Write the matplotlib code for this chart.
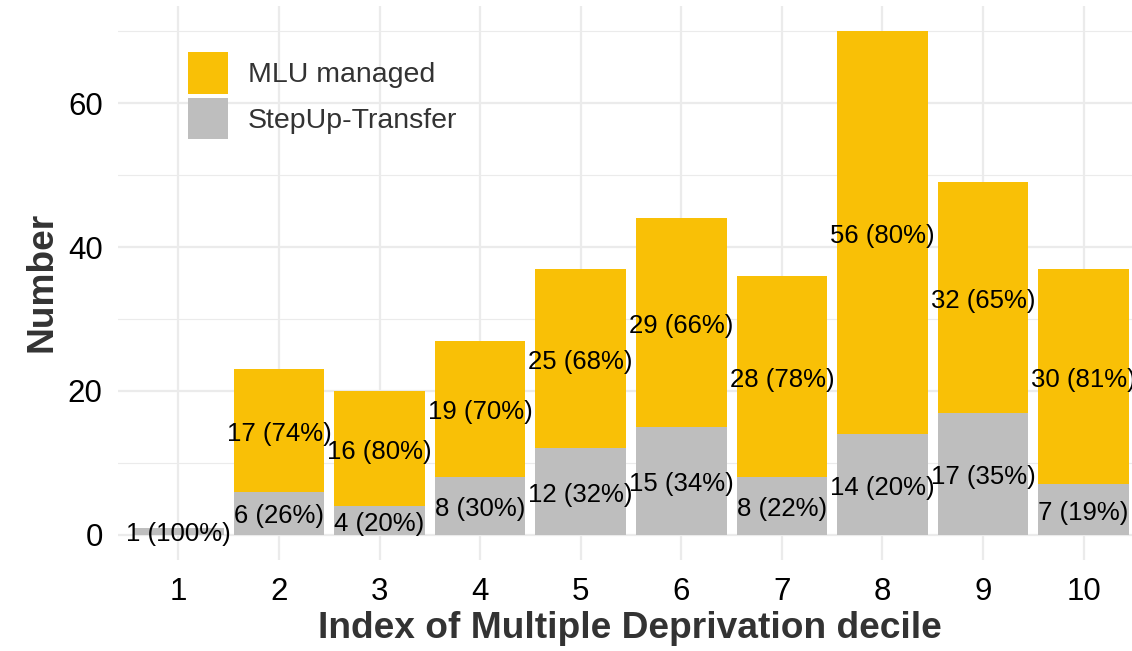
import matplotlib
matplotlib.use("Agg")
import matplotlib.pyplot as plt
from matplotlib.patches import Patch
import numpy as np

deciles = [1, 2, 3, 4, 5, 6, 7, 8, 9, 10]
stepup = [1, 6, 4, 8, 12, 15, 8, 14, 17, 7]
mlu = [0, 17, 16, 19, 25, 29, 28, 56, 32, 30]
series_names = ["MLU managed", "StepUp-Transfer"]
yticks = [0, 20, 40, 60]

GOLD = "#F9C006"
GREY = "#BEBEBE"
GRID = "#EBEBEB"

plt.rcParams['font.family'] = ['Liberation Sans', 'DejaVu Sans']

W, H = 1132, 651
fig = plt.figure(figsize=(W / 100, H / 100), dpi=100)
left_px, right_px, top_px, bot_px = 118, 1144, 6, 560
ax = fig.add_axes([left_px / W, 1 - bot_px / H, (right_px - left_px) / W, (bot_px - top_px) / H])
ax.set_xlim(0.4, 10.6)
ax.set_ylim(-3.5, 73.5)

# grid
for y in [0, 20, 40, 60]:
    ax.axhline(y, color=GRID, lw=1.6, zorder=0)
for y in [10, 30, 50, 70]:
    ax.axhline(y, color=GRID, lw=0.8, zorder=0)
for x in deciles:
    ax.axvline(x, color=GRID, lw=1.6, zorder=0)

x = np.array(deciles)
s = np.array(stepup)
m = np.array(mlu)
tot = s + m
ax.bar(x, s, width=0.9, color=GREY, zorder=2)
ax.bar(x, m, bottom=s, width=0.9, color=GOLD, zorder=2)

fs_lab = 18.5
def seg_label(xv, yv, txt):
    ax.annotate(txt, (xv, yv), xytext=(0, -2.3), textcoords="offset points",
                ha="center", va="center", fontsize=fs_lab, color="black", zorder=3)

for xi, si, mi, ti in zip(x, s, m, tot):
    if si > 0:
        seg_label(xi, si / 2, f"{si} ({round(100 * si / ti)}%)")
    if mi > 0:
        seg_label(xi, si + mi / 2, f"{mi} ({round(100 * mi / ti)}%)")

for sp in ax.spines.values():
    sp.set_visible(False)
ax.set_xticks(deciles)
ax.set_xticklabels([str(d) for d in deciles])
ax.set_yticks(yticks)
ax.tick_params(axis="both", length=0, labelsize=22.5, colors="black")
ax.tick_params(axis="x", pad=12)
ax.tick_params(axis="y", pad=11)

fig.text(630 / W, 1 - 628 / H, "Index of Multiple Deprivation decile", ha="center", va="center",
         fontsize=26.7, fontweight="bold", color="#333333")
fig.text(42 / W, 1 - 282 / H, "Number", ha="center", va="center", rotation=90,
         fontsize=26.7, fontweight="bold", color="#333333")

handles = [Patch(facecolor=GOLD, edgecolor="none"), Patch(facecolor=GREY, edgecolor="none")]
leg = fig.legend(handles, series_names, loc="upper left",
                 bbox_to_anchor=(188 / W, 1 - 52 / H), bbox_transform=fig.transFigure,
                 frameon=False, fontsize=20.5, handlelength=1.4, handleheight=1.87,
                 labelspacing=0.15, handletextpad=0.7, borderpad=0, borderaxespad=0)
for t in leg.get_texts():
    t.set_color("#333333")

fig.savefig("out.png", dpi=100)
